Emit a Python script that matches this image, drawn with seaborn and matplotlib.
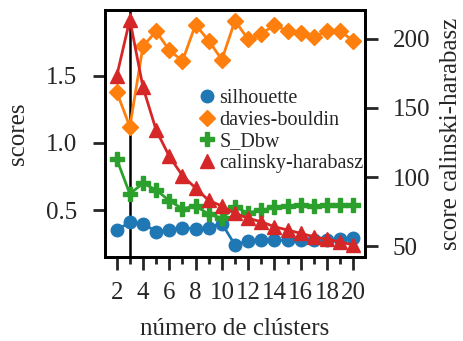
import matplotlib
matplotlib.use("Agg")
import matplotlib.pyplot as plt
import seaborn as sns
import pandas as pd
from matplotlib.ticker import MultipleLocator
from matplotlib.lines import Line2D

clusters = list(range(2, 21))
silhouette = [0.35, 0.41, 0.40, 0.34, 0.35, 0.37, 0.36, 0.37, 0.40, 0.24, 0.27, 0.275, 0.275, 0.275, 0.28, 0.28, 0.28, 0.285, 0.29]
davies_bouldin = [1.38, 1.12, 1.72, 1.83, 1.69, 1.61, 1.88, 1.76, 1.62, 1.91, 1.77, 1.81, 1.88, 1.83, 1.82, 1.79, 1.83, 1.83, 1.76]
s_dbw = [0.88, 0.62, 0.70, 0.65, 0.57, 0.51, 0.53, 0.47, 0.44, 0.52, 0.48, 0.50, 0.52, 0.53, 0.54, 0.53, 0.535, 0.54, 0.54]
calinski = [173, 214, 165, 134, 115, 101, 92, 83, 79, 73.7, 70.1, 67.6, 64, 61.6, 59.2, 56.7, 54.9, 53.1, 50.7]

sns.set_theme(style="ticks")
plt.rcParams['font.family'] = ['Liberation Serif', 'DejaVu Serif']

df = pd.DataFrame({"k": clusters, "silhouette": silhouette, "davies-bouldin": davies_bouldin,
                   "S_Dbw": s_dbw, "calinsky-harabasz": calinski})

fig = plt.figure(figsize=(4.64, 3.41), dpi=100)
ax = fig.add_axes([0.226, 0.246, 0.561, 0.725])
ax2 = ax.twinx()

pal = sns.color_palette("tab10")
specs = [("silhouette", "o", 9, pal[0], ax), ("davies-bouldin", "D", 8.5, pal[1], ax),
         ("S_Dbw", "P", 10, pal[2], ax), ("calinsky-harabasz", "^", 10, pal[3], ax2)]
handles = []
for name, m, ms, c, a in specs:
    sns.lineplot(data=df, x="k", y=name, ax=a, color=c, marker=m, markersize=ms,
                 markeredgewidth=1, markeredgecolor=c, linewidth=2, legend=False)
    handles.append(Line2D([], [], color=c, marker=m, markersize=ms, markeredgewidth=1,
                          markeredgecolor=c, linestyle="none", label=name))

ax.axvline(3, color="black", linewidth=1.8, zorder=0)

ax.set_xlim(1.1, 20.9)
ax.set_ylim(0.15, 1.99)
ax2.set_ylim(42, 221)
ax.xaxis.set_major_locator(MultipleLocator(2))
ax.xaxis.set_minor_locator(MultipleLocator(1))
ax.set_yticks([0.5, 1.0, 1.5])
ax2.set_yticks([50, 100, 150, 200])

fs = 18
ax.set_xlabel("número de clústers", fontsize=fs, labelpad=10)
ax.set_ylabel("scores", fontsize=fs, labelpad=12)
ax2.set_ylabel("score calinski-harabasz", fontsize=fs, labelpad=7)
for a in (ax, ax2):
    a.tick_params(axis="both", which="major", length=9, width=2, labelsize=fs, direction="out")
    a.tick_params(axis="both", which="minor", length=5, width=2, direction="out")
    a.tick_params(axis="y", which="major", pad=11)
    a.tick_params(axis="x", which="major", pad=9)
    for s in a.spines.values():
        s.set_linewidth(2)
        s.set_color("black")

ax.legend(handles=handles, loc="upper left", bbox_to_anchor=(0.37, 0.68), frameon=False,
          fontsize=14.5, handlelength=0.6, handletextpad=0.3, labelspacing=0.12,
          borderaxespad=0, borderpad=0)

fig.savefig("out.png", dpi=100)
